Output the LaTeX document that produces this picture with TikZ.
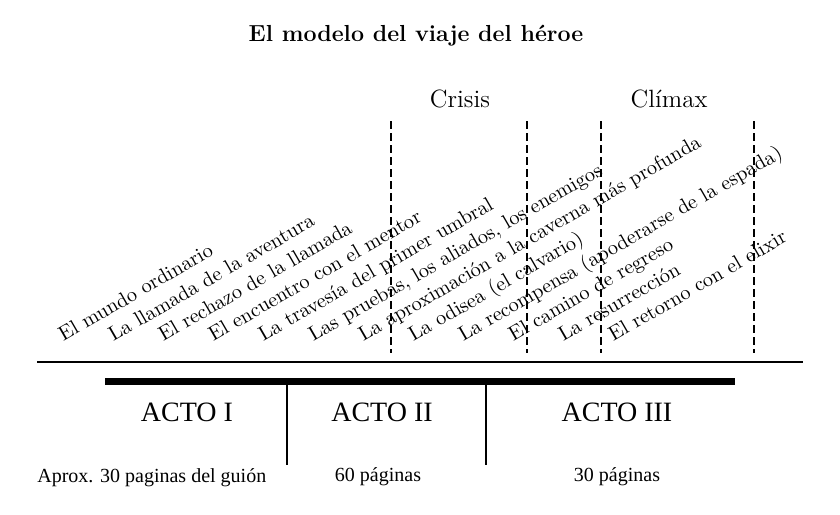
\documentclass[tikz,border=0pt]{standalone}
\usepackage{fontspec}
\newfontfamily\timesfont{Liberation Serif}

\begin{document}
\begin{tikzpicture}[
    x=0.5pt, y=-0.5pt,
    title/.style={font=\bfseries\fontsize{11.6}{14}\selectfont},
    stage/.style={anchor=base west, rotate=30, inner sep=0pt, font=\fontsize{10.2}{12}\selectfont},
    peak/.style={font=\fontsize{12.5}{15}\selectfont},
    act/.style={font=\timesfont\fontsize{14}{17}\selectfont},
    pages/.style={font=\timesfont\fontsize{10}{12}\selectfont},
    marker/.style={line width=1pt, dash pattern=on 4pt off 2pt},
    bar/.style={line width=3.5pt},
    divider/.style={line width=1pt}
]
   \useasboundingbox (0,0) rectangle (840,514);

   % Title and peaks
   \node[title] (title) at (416,36) {El modelo del viaje del héroe};
   \node[peak] (crisis) at (460,99) {Crisis};
   \node[peak] (climax) at (669,99) {Clímax};

   % Stages of the journey
   \node[stage] (s1) at (63,342) {El mundo ordinario};
   \node[stage] (s2) at (113,342) {La llamada de la aventura};
   \node[stage] (s3) at (163,342) {El rechazo de la llamada};
   \node[stage] (s4) at (213,342) {El encuentro con el mentor};
   \node[stage] (s5) at (263,342) {La travesía del primer umbral};
   \node[stage] (s6) at (313,342) {Las pruebas, los aliados, los enemigos};
   \node[stage] (s7) at (363,342) {La aproximación a la caverna más profunda};
   \node[stage] (s8) at (413,342) {La odisea (el calvario)};
   \node[stage] (s9) at (463,342) {La recompensa (apoderarse de la espada)};
   \node[stage] (s10) at (513,342) {El camino de regreso};
   \node[stage] (s11) at (563,342) {La resurrección};
   \node[stage] (s12) at (613,342) {El retorno con el elixir};

   % Dashed markers
   \coordinate (c1) at (391,121);  \coordinate (c2) at (391,353);
   \coordinate (c3) at (527,121);  \coordinate (c4) at (527,353);
   \coordinate (c5) at (601,121);  \coordinate (c6) at (601,353);
   \coordinate (c7) at (754,121);  \coordinate (c8) at (754,353);
   \draw[marker] (c1) -- (c2);
   \draw[marker] (c3) -- (c4);
   \draw[marker] (c5) -- (c6);
   \draw[marker] (c7) -- (c8);

   % Time line and acts
   \coordinate (lineL) at (37,362);  \coordinate (lineR) at (803,362);
   \coordinate (barL) at (105,381);  \coordinate (barR) at (735,381);
   \coordinate (d1) at (287,381);  \coordinate (d1b) at (287,465);
   \coordinate (d2) at (486,381);  \coordinate (d2b) at (486,465);
   \draw[divider] (lineL) -- (lineR);
   \draw[bar] (barL) -- (barR);
   \draw[divider] (d1) -- (d1b);
   \draw[divider] (d2) -- (d2b);

   \node[act] (acto1) at (187,412) {ACTO I};
   \node[act] (acto2) at (382,412) {ACTO II};
   \node[act] (acto3) at (617,412) {ACTO III};

   % Pages
   \node[pages, anchor=base west, inner sep=0pt] (p1) at (37,482) {Aprox. 30 paginas del guión};
   \node[pages] (p2) at (378,477) {60 páginas};
   \node[pages] (p3) at (617,477) {30 páginas};
\end{tikzpicture}
\end{document}
